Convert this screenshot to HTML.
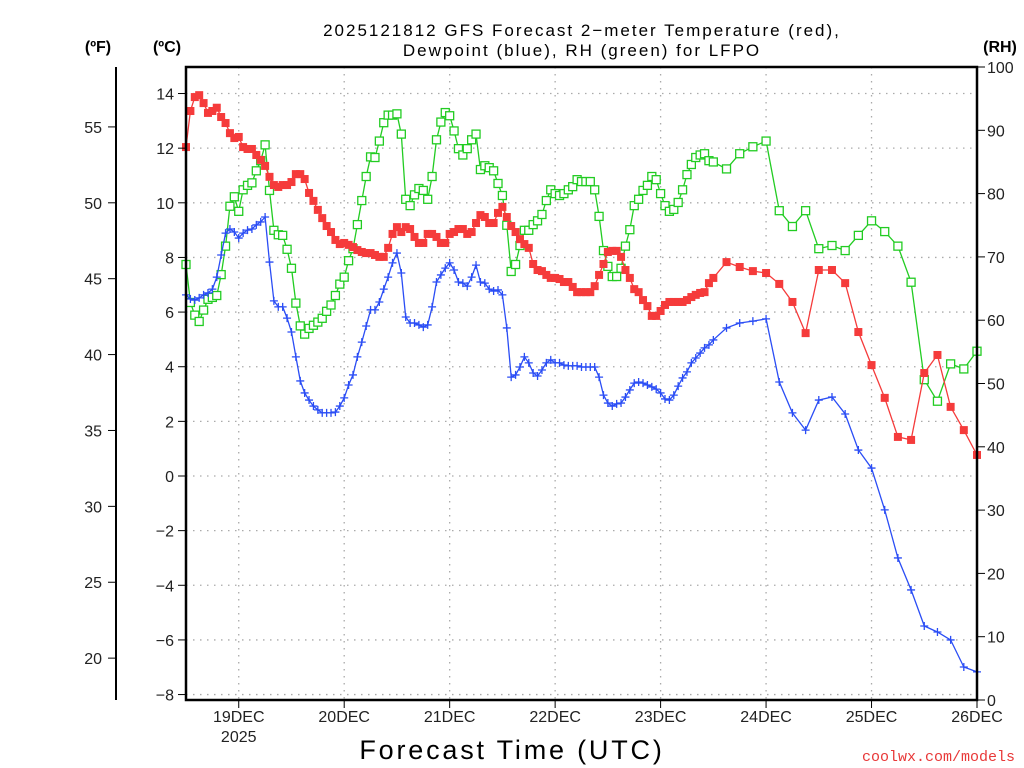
<!DOCTYPE html>
<html><head><meta charset="utf-8"><style>
html,body{margin:0;padding:0;background:#fff;}
svg{display:block;font-family:"Liberation Sans",sans-serif;}
</style></head><body>
<svg id="chart" width="1024" height="768" viewBox="0 0 1024 768">
<g id="grid"></g>
<g id="series"></g>
<g id="axes"></g>
<text x="582" y="36" font-size="17" text-anchor="middle" letter-spacing="2" fill="#000">2025121812 GFS Forecast 2−meter Temperature (red),</text>
<text x="582" y="56" font-size="17" text-anchor="middle" letter-spacing="2" fill="#000">Dewpoint (blue), RH (green) for LFPO</text>
<text x="98" y="52" font-size="16" font-weight="bold" text-anchor="middle">(ºF)</text>
<text x="167" y="52" font-size="16" font-weight="bold" text-anchor="middle">(ºC)</text>
<text x="1000" y="52" font-size="16" font-weight="bold" text-anchor="middle">(RH)</text>
<text x="512" y="759" font-size="27" text-anchor="middle" letter-spacing="2.8">Forecast Time (UTC)</text>
<text x="1015" y="761" font-size="15" text-anchor="end" fill="#e83838" font-family="Liberation Mono, monospace">coolwx.com/models</text>
</svg>
<script>
const dayLabels=["19DEC","20DEC","21DEC","22DEC","23DEC","24DEC","25DEC","26DEC"];
const cTicks=[-8,-6,-4,-2,0,2,4,6,8,10,12,14];
const fTicks=[20,25,30,35,40,45,50,55];
const rhTicks=[0,10,20,30,40,50,60,70,80,90,100];
const hoursH=[];for(let h=0;h<=120;h++)hoursH.push(h);
const hours3=[123,126,129,132,135,138,141,144,147,150,153,156,159,162,165,168,171,174,177,180];
const tempC=[12.04,13.36,13.87,13.94,13.65,13.29,13.36,13.48,13.14,12.92,12.55,12.37,12.41,12.04,11.97,11.97,11.75,11.57,11.35,10.95,10.65,10.58,10.65,10.65,10.76,11.05,11.05,10.87,10.36,10.07,9.74,9.44,9.15,8.93,8.64,8.49,8.53,8.46,8.38,8.27,8.20,8.16,8.16,8.09,8.02,8.02,
8.35,8.86,9.11,8.93,9.11,9.04,8.75,8.53,8.53,8.86,8.86,8.75,8.53,8.53,8.86,8.93,9.04,9.04,8.86,8.93,9.26,9.55,9.48,9.26,9.26,9.63,9.85,9.48,9.15,8.93,8.67,8.49,8.35,7.76,7.54,7.50,7.36,7.25,7.25,7.21,7.10,
7.10,6.92,6.73,6.73,6.73,6.73,6.95,7.36,7.76,8.20,8.24,8.24,8.02,7.54,7.25,6.84,6.73,6.44,6.22,5.86,5.86,6.04,6.26,6.37,6.37,6.37,6.37,6.44,6.55,6.63,6.70,6.73,7.06,7.25,
7.83,7.65,7.50,7.43,7.03,6.37,5.23,7.54,7.54,7.06,5.27,4.06,2.86,1.43,1.32,3.77,4.43,2.53,1.68,0.77];
const dewC=[6.63,6.48,6.44,6.52,6.63,6.70,6.84,7.28,8.09,8.89,9.04,8.93,8.71,8.89,9.00,9.04,9.19,9.30,9.48,7.83,6.41,6.19,6.19,5.78,5.27,4.36,3.48,3.04,2.78,2.56,2.42,2.31,2.31,2.31,2.34,2.56,2.86,3.33,3.70,4.36,4.90,5.49,6.08,6.08,6.37,
6.84,7.28,7.80,8.16,7.43,5.82,5.60,5.60,5.53,5.45,5.53,6.19,7.10,7.36,7.61,7.80,7.54,7.10,7.06,6.95,7.28,7.72,7.10,7.06,6.84,6.77,6.81,6.63,5.42,3.62,3.70,3.99,4.36,4.14,3.77,3.66,3.88,4.14,4.25,4.14,4.14,4.06,4.03,
4.03,4.03,3.99,3.99,3.99,3.99,3.62,2.96,2.67,2.56,2.64,2.67,2.89,3.15,3.40,3.44,3.40,3.33,3.26,3.18,3.04,2.82,2.78,2.96,3.29,3.59,3.81,4.14,4.32,4.50,4.69,4.80,4.98,
5.42,5.60,5.67,5.75,3.44,2.31,1.68,2.78,2.89,2.27,0.95,0.29,-1.24,-3.00,-4.17,-5.49,-5.71,-6.00,-6.99,-7.17];
const rhPct=[68.8,62.8,60.8,59.8,61.6,63.3,63.6,63.9,67.2,71.7,78.0,79.5,77.2,80.6,81.3,81.7,83.6,85.2,87.7,80.5,74.2,73.5,73.4,71.2,68.2,62.7,59.1,57.8,58.7,59.2,59.7,60.3,61.4,62.4,63.9,65.7,66.8,69.4,71.3,75.1,78.9,82.7,85.8,85.7,88.3,
91.2,92.4,92.4,92.6,89.4,79.1,78.1,79.8,80.8,80.5,79.1,82.7,88.5,91.3,92.8,92.3,89.9,87.1,86.1,87.1,88.5,89.4,83.8,84.4,84.1,83.6,81.6,79.7,75.0,67.7,68.8,71.8,74.2,74.2,75.1,75.7,76.7,78.9,80.6,80.0,79.7,80.0,80.6,
81.1,82.2,81.9,81.9,81.9,80.6,76.4,71.0,68.5,66.9,66.9,68.2,71.7,74.3,78.1,79.1,80.5,81.3,82.7,82.2,80.0,78.1,77.2,77.5,78.6,80.6,83.0,84.6,85.7,86.1,86.3,85.2,85.0,
83.9,86.3,87.4,88.3,77.3,74.8,77.3,71.3,71.8,71.0,73.4,75.7,74.0,71.7,66.0,50.6,47.2,53.1,52.3,55.1];

const NS="http://www.w3.org/2000/svg";
const L=186,R=977,T=67,B=700;
const hours=hoursH.concat(hours3);
function xS(h){return L+(h/180)*(R-L);}
function yC(c){return 476-27.32*c;}
function yF(f){return yC((f-32)*5/9);}
function yRH(r){return B-(r/100)*(B-T);}
function mk(tag,attrs,parent){const e=document.createElementNS(NS,tag);for(const k in attrs)e.setAttribute(k,attrs[k]);parent.appendChild(e);return e;}
const grid=document.getElementById('grid'),axes=document.getElementById('axes'),ser=document.getElementById('series');

cTicks.forEach(c=>{const y=yC(c);
 const g=mk('line',{x1:L,x2:R,y1:y,y2:y,stroke:'#aaa','stroke-width':1.3,'stroke-dasharray':'1.5 5.5'},grid);
 
 
 mk('line',{x1:L-8,x2:L,y1:y,y2:y,stroke:'#000','stroke-width':1},axes);
 const t=mk('text',{x:L-12,y:y+6,'font-size':16,'text-anchor':'end',fill:'#222'},axes);
 
 
 t.textContent=c<0?'−'+(-c):String(c);
});
dayLabels.forEach((d,i)=>{const x=xS(12+24*i);
 if(i<dayLabels.length-1){const g=mk('line',{x1:x,x2:x,y1:T,y2:B,stroke:'#aaa','stroke-width':1.3,'stroke-dasharray':'1.5 5.5'},grid);
 
 }
 mk('line',{x1:x,x2:x,y1:B,y2:B+8,stroke:'#000','stroke-width':1},axes);
 const t=mk('text',{x:x,y:B+22,'font-size':16,'text-anchor':'middle',fill:'#222'},axes);
 
 
 t.textContent=d;
});
const yr=mk('text',{x:xS(12),y:B+42,'font-size':16,'text-anchor':'middle',fill:'#222'},axes);


yr.textContent='2025';
mk('line',{x1:116,x2:116,y1:T,y2:B,stroke:'#000','stroke-width':2},axes);
fTicks.forEach(f=>{const y=yF(f);
 mk('line',{x1:108,x2:116,y1:y,y2:y,stroke:'#000','stroke-width':1},axes);
 const t=mk('text',{x:102,y:y+6,'font-size':16,'text-anchor':'end',fill:'#222'},axes);
 
 
 t.textContent=String(f);
});
rhTicks.forEach(r=>{const y=yRH(r);
 mk('line',{x1:R,x2:R+8,y1:y,y2:y,stroke:'#000','stroke-width':1},axes);
 const t=mk('text',{x:R+10,y:y+6,'font-size':16,'text-anchor':'start',fill:'#222'},axes);
 
 
 t.textContent=String(r);
});
const fr=mk('rect',{x:L,y:T,width:R-L,height:B-T,fill:'none',stroke:'#000','stroke-width':2.5},axes);



function series(vals,yf,color,kind,name){
 const g=mk('g',{},ser);
 
 
 const pts=vals.map((v,i)=>xS(hours[i]).toFixed(1)+','+yf(v).toFixed(1)).join(' ');
 mk('polyline',{points:pts,fill:'none',stroke:color,'stroke-width':1.3},g);
 vals.forEach((v,i)=>{const x=xS(hours[i]),y=yf(v);let m;
  if(kind==='fill')m=mk('rect',{x:x-4,y:y-4,width:8,height:8,fill:color},g);
  else if(kind==='open')m=mk('rect',{x:x-4,y:y-4,width:8,height:8,fill:'#fff',stroke:color,'stroke-width':1.3},g);
  else m=mk('path',{d:`M${x-4},${y}H${x+4}M${x},${y-4}V${y+4}`,stroke:color,'stroke-width':1.3},g);
  
  
 });
}
series(rhPct,yRH,'#22cc22','open','rh-series');
series(dewC,yC,'#2a4df5','plus','dewpoint-series');
series(tempC,yC,'#f53b3b','fill','temperature-series');
</script>
</body></html>
